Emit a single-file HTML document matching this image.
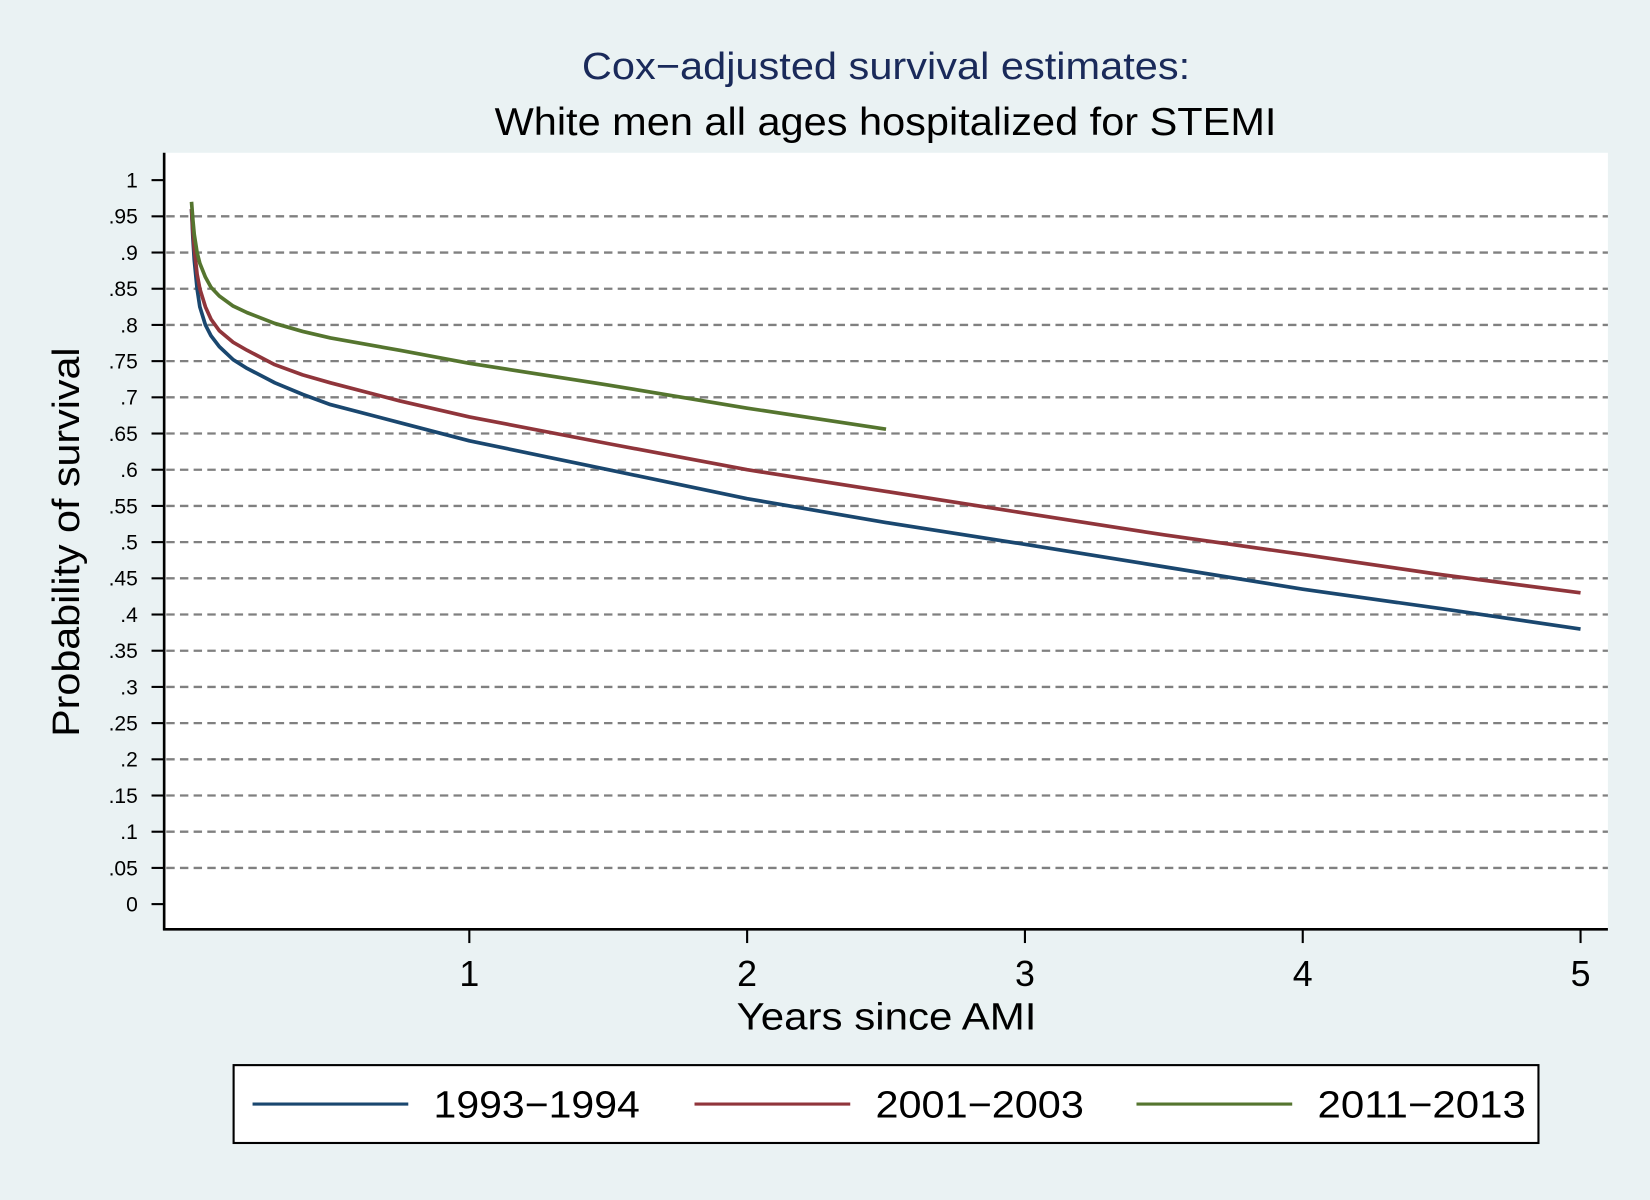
<!DOCTYPE html>
<html><head><meta charset="utf-8"><style>
html,body{margin:0;padding:0;background:#eaf2f3;}
svg{display:block;font-family:"Liberation Sans",sans-serif;}
</style></head><body>
<svg id="chart" width="1650" height="1200" viewBox="0 0 1568 1140" xmlns="http://www.w3.org/2000/svg">
<rect x="0" y="0" width="1568" height="1140" fill="#eaf2f3"/>
<text x="553" y="75" textLength="578" lengthAdjust="spacingAndGlyphs" font-size="36" fill="#1a2a5a">Cox−adjusted survival estimates:</text>
<text x="470" y="128" textLength="743" lengthAdjust="spacingAndGlyphs" font-size="37" fill="#000">White men all ages hospitalized for STEMI</text>
<rect x="156" y="145" width="1372" height="738" fill="#fff"/>
<g id="grid"></g>
<g id="yaxis"></g>
<g id="xaxis"></g>
<g id="series"></g>
<line x1="156" y1="145" x2="156" y2="884" stroke="#000" stroke-width="2.5"/>
<line x1="155" y1="883" x2="1528" y2="883" stroke="#000" stroke-width="2.5"/>
<text x="700" y="978" textLength="285" lengthAdjust="spacingAndGlyphs" font-size="36">Years since AMI</text>
<text transform="translate(75,700) rotate(-90)" textLength="370" lengthAdjust="spacingAndGlyphs" font-size="36">Probability of survival</text>
<g>
<rect x="222" y="1012" width="1240" height="74" fill="#fff" stroke="#000" stroke-width="2"/>
<line x1="240" y1="1049" x2="388" y2="1049" stroke="#1a476f" stroke-width="3"/>
<text x="412" y="1062" textLength="196" lengthAdjust="spacingAndGlyphs" font-size="36">1993−1994</text>
<line x1="660" y1="1049" x2="808" y2="1049" stroke="#90353b" stroke-width="3"/>
<text x="832" y="1062" textLength="198" lengthAdjust="spacingAndGlyphs" font-size="36">2001−2003</text>
<line x1="1080" y1="1049" x2="1228" y2="1049" stroke="#55752f" stroke-width="3"/>
<text x="1252" y="1062" textLength="198" lengthAdjust="spacingAndGlyphs" font-size="36">2011−2013</text>
</g>
</svg>
<script>
const yTicks=[0,0.05,0.1,0.15,0.2,0.25,0.3,0.35,0.4,0.45,0.5,0.55,0.6,0.65,0.7,0.75,0.8,0.85,0.9,0.95,1];
const yTickLabels=["0",".05",".1",".15",".2",".25",".3",".35",".4",".45",".5",".55",".6",".65",".7",".75",".8",".85",".9",".95","1"];
const xTicks=[1,2,3,4,5];
const xTickLabels=["1","2","3","4","5"];
const tBlue=[0,0.005,0.01,0.02,0.03,0.05,0.07,0.1,0.15,0.2,0.3,0.4,0.5,0.75,1,1.5,2,2.5,3,3.5,4,4.5,5];
const vBlue=[0.96,0.92,0.89,0.85,0.825,0.8,0.785,0.77,0.752,0.74,0.72,0.704,0.69,0.665,0.64,0.6,0.56,0.527,0.497,0.466,0.435,0.408,0.38];
const tRed=[0,0.005,0.01,0.02,0.03,0.05,0.07,0.1,0.15,0.2,0.3,0.4,0.5,0.75,1,1.5,2,2.5,3,3.5,4,4.5,5];
const vRed=[0.96,0.93,0.905,0.87,0.85,0.825,0.808,0.792,0.776,0.765,0.745,0.731,0.72,0.695,0.673,0.636,0.6,0.57,0.54,0.51,0.483,0.455,0.43];
const tGreen=[0,0.005,0.01,0.02,0.03,0.05,0.07,0.1,0.15,0.2,0.3,0.4,0.5,0.75,1,1.5,2,2.5];
const vGreen=[0.97,0.945,0.925,0.9,0.885,0.866,0.852,0.84,0.826,0.817,0.802,0.791,0.782,0.765,0.747,0.717,0.685,0.656];
const NS="http://www.w3.org/2000/svg";
const xs=t=>182+t*264;
const ys=v=>859-v*688;
const grid=document.getElementById('grid'),ya=document.getElementById('yaxis'),xa=document.getElementById('xaxis'),ser=document.getElementById('series');
yTicks.forEach((v,i)=>{
  const y=ys(v);
  if(v>0.001&&v<0.999){
    const g=document.createElementNS(NS,'line');
    g.setAttribute('x1',158);g.setAttribute('x2',1528);g.setAttribute('y1',y);g.setAttribute('y2',y);
    g.setAttribute('stroke','#808080');g.setAttribute('stroke-width','2.2');g.setAttribute('stroke-dasharray','8 5');
    
    
    grid.appendChild(g);
  }
  const tk=document.createElementNS(NS,'line');
  tk.setAttribute('x1',144);tk.setAttribute('x2',156);tk.setAttribute('y1',y);tk.setAttribute('y2',y);
  tk.setAttribute('stroke','#000');tk.setAttribute('stroke-width','2');
  
  
  ya.appendChild(tk);
  const tx=document.createElementNS(NS,'text');
  tx.setAttribute('x',131);tx.setAttribute('y',y+7);tx.setAttribute('text-anchor','end');tx.setAttribute('font-size','20');
  tx.textContent=yTickLabels[i];
  
  
  ya.appendChild(tx);
});
xTicks.forEach((t,i)=>{
  const x=xs(t);
  const tk=document.createElementNS(NS,'line');
  tk.setAttribute('x1',x);tk.setAttribute('x2',x);tk.setAttribute('y1',883);tk.setAttribute('y2',896);
  tk.setAttribute('stroke','#000');tk.setAttribute('stroke-width','2');
  
  
  xa.appendChild(tk);
  const tx=document.createElementNS(NS,'text');
  tx.setAttribute('x',x);tx.setAttribute('y',937);tx.setAttribute('text-anchor','middle');tx.setAttribute('font-size','34');
  tx.textContent=xTickLabels[i];
  
  
  xa.appendChild(tx);
});
function drawLine(ts,vs,color,name){
  const p=document.createElementNS(NS,'path');
  let d='';
  ts.forEach((t,i)=>{d+=(i?'L':'M')+xs(t).toFixed(1)+' '+ys(vs[i]).toFixed(1)+' ';});
  p.setAttribute('d',d);p.setAttribute('fill','none');p.setAttribute('stroke',color);
  p.setAttribute('stroke-width','3.5');p.setAttribute('stroke-linejoin','round');
  
  
  ser.appendChild(p);
}
drawLine(tBlue,vBlue,'#1a476f','series-1993-1994');
drawLine(tRed,vRed,'#90353b','series-2001-2003');
drawLine(tGreen,vGreen,'#55752f','series-2011-2013');
</script>
</body></html>
